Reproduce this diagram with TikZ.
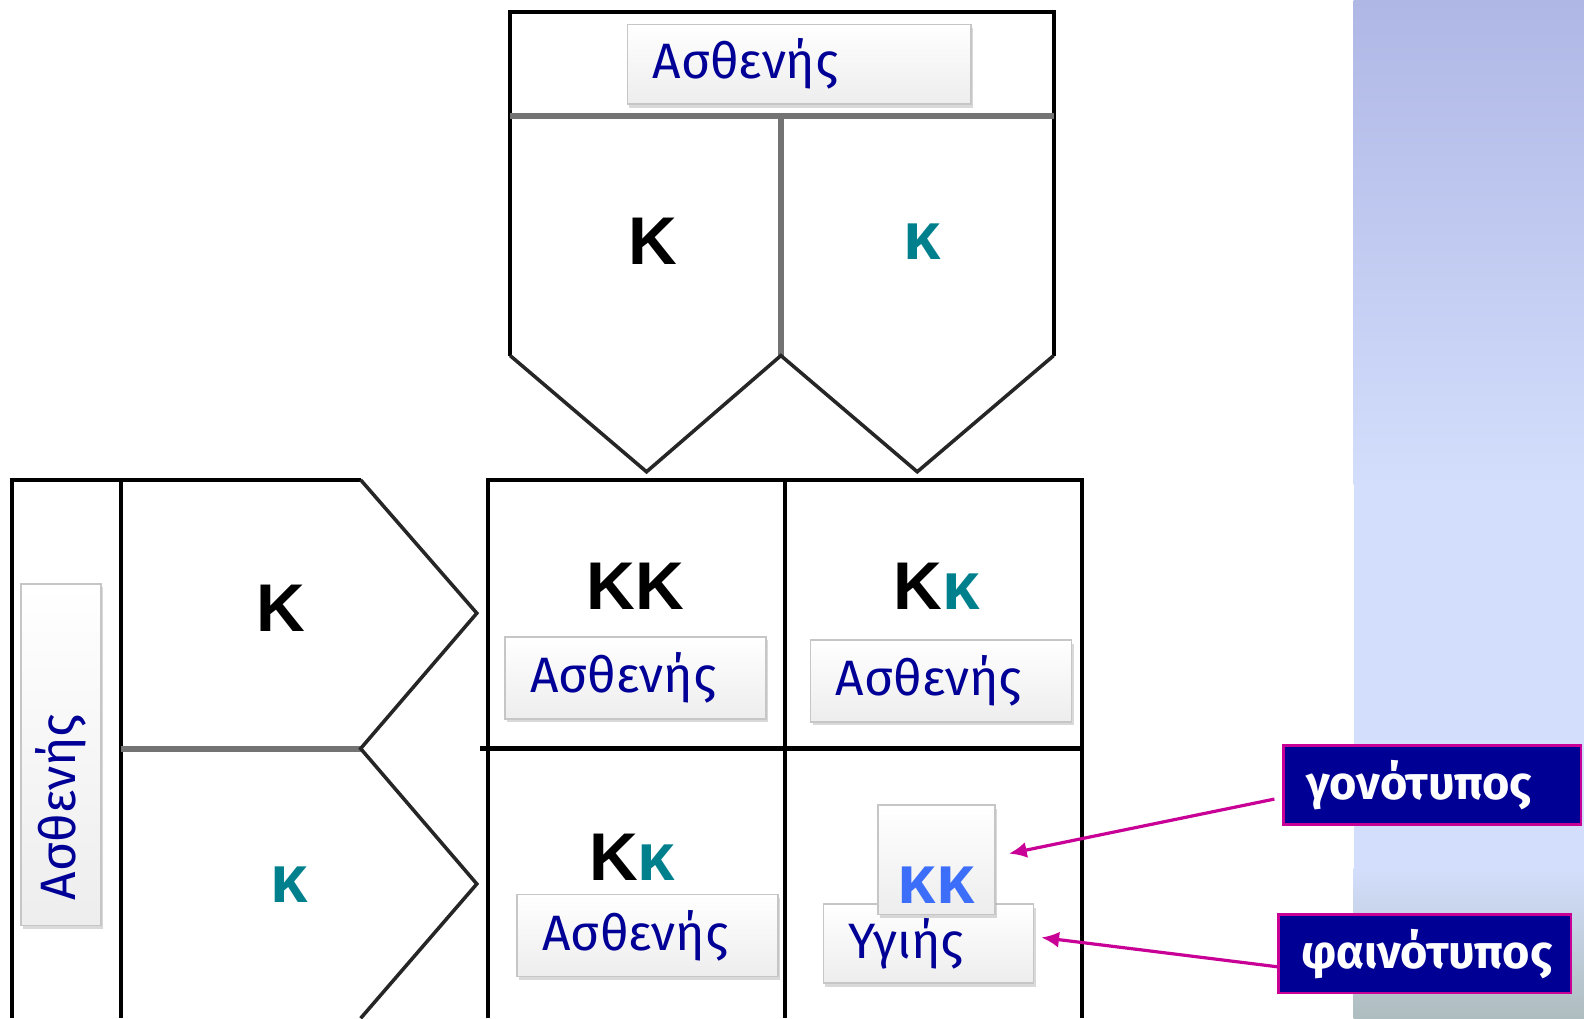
\documentclass[tikz,border=0pt]{standalone}
\usepackage{fontspec}
\setmainfont{Fira Sans}
\newfontfamily\allelefont{Liberation Sans}
\usetikzlibrary{shadows, arrows.meta}

\definecolor{labelblue}{RGB}{0,0,150}
\definecolor{recteal}{RGB}{0,128,140}
\definecolor{domblue}{RGB}{60,110,250}
\definecolor{navybox}{RGB}{0,0,148}
\definecolor{arrowmag}{RGB}{200,0,150}
\definecolor{splitgray}{RGB}{115,115,115}
\definecolor{paneltop}{RGB}{175,183,229}
\definecolor{panelmid}{RGB}{211,222,252}
\definecolor{panelbot}{RGB}{174,189,191}

\begin{document}
\begin{tikzpicture}[x=0.01cm, y=-0.01cm,
    every node/.style={inner sep=0pt},
    pheno/.style={draw=gray!45, line width=0.4pt, top color=white, bottom color=gray!14,
        drop shadow={opacity=0.3, shadow xshift=0.6pt, shadow yshift=-1pt},
        minimum height=0.8cm, text width=#1, inner xsep=0.25cm, align=left,
        text=labelblue, font=\fontsize{14}{16}\selectfont},
    allele/.style={anchor=base, font=\allelefont\bfseries\fontsize{19}{20}\selectfont},
    term/.style={fill=navybox, draw=arrowmag, line width=0.8pt, text width=#1, inner xsep=0.22cm,
        minimum height=0.78cm, align=left, text=white, font=\bfseries\fontsize{13.2}{15}\selectfont},
    frame/.style={line width=1.2pt},
    split/.style={line width=1.7pt, draw=splitgray},
    notch/.style={line width=1pt, draw=black!85},
    pointer/.style={-{Latex[length=5pt, width=4.5pt]}, line width=0.9pt, draw=arrowmag}]

        \useasboundingbox (0,0) rectangle (1568,1008);

        % --- SIDE PANEL ---
        \fill[panelmid] (1340,0) rectangle (1568,1008);
        \shade[top color=paneltop, bottom color=panelmid] (1340,0) rectangle (1568,480);
        \shade[top color=panelmid, bottom color=panelbot] (1340,860) rectangle (1568,1008);

        % --- FATHER (TOP) ---
        \draw[frame] (505,352) -- (505,12) -- (1043,12) -- (1043,352);
        \draw[split] (505,115) -- (1043,115);
        \draw[split] (773,115) -- (773,352);
        \draw[notch] (505,352) -- (640,467) -- (773,352) -- (908,467) -- (1043,352);
        \node[pheno=2.9cm, minimum height=0.79cm] (father) at (791,63.5) {Ασθενής};
        \node[allele] (fK) at (646,262) {Κ};
        \node[allele, text=recteal] (fk) at (913,257) {κ};

        % --- MOTHER (LEFT) ---
        \draw[frame] (357,475) -- (12,475) -- (12,1008);
        \draw[frame] (120,475) -- (120,1008);
        \draw[split] (120,741) -- (357,741);
        \draw[notch] (357,475) -- (472,607) -- (357,741) -- (472,875) -- (357,1008);
        \node[pheno=2.88cm, minimum height=0.79cm, rotate=90] (mother) at (60.5,747) {Ασθενής};
        \node[allele] (mK) at (278,625) {Κ};
        \node[allele, text=recteal] (mk) at (286,893) {κ};

        % --- OFFSPRING GRID ---
        \draw[frame] (483,1008) -- (483,475) -- (1071,475) -- (1071,1008);
        \draw[frame] (777,475) -- (777,1008);
        \draw[frame] (475,741) -- (1071,741);

        \node[allele] (KK) at (629,603) {ΚΚ};
        \node[allele] (Kk1) at (927,603) {Κ\textcolor{recteal}{κ}};
        \node[allele] (Kk2) at (626,872) {Κ\textcolor{recteal}{κ}};
        \foreach \x/\y/\name in {629/671/sick1, 931.5/674/sick2, 641/926/sick3} {
            \node[pheno=2.08cm, minimum height=0.81cm] (\name) at (\x,\y) {Ασθενής};
        }
        \node[pheno=1.58cm, minimum height=0.78cm] (healthy) at (919,934) {Υγιής};
        \node[pheno=1.16cm, inner xsep=0pt, minimum height=1.08cm, text height=0.86cm, align=center,
              text=domblue, font=\allelefont\bfseries\fontsize{19.5}{22}\selectfont] (homrec) at (927,851) {κκ};

        % --- TERMS ---
        \node[term=2.5cm] (genotype) at (1418,777) {γονότυπος};
        \node[term=2.45cm] (phenotype) at (1410.5,944) {φαινότυπος};
        \draw[pointer] ([xshift=-0.08cm, yshift=-0.14cm]genotype.west) -- ([xshift=0.13cm, yshift=0.06cm]homrec.east);
        \draw[pointer] ([yshift=-0.13cm]phenotype.west) -- ([xshift=0.07cm, yshift=0.06cm]healthy.east);

    \end{tikzpicture}
\end{document}
